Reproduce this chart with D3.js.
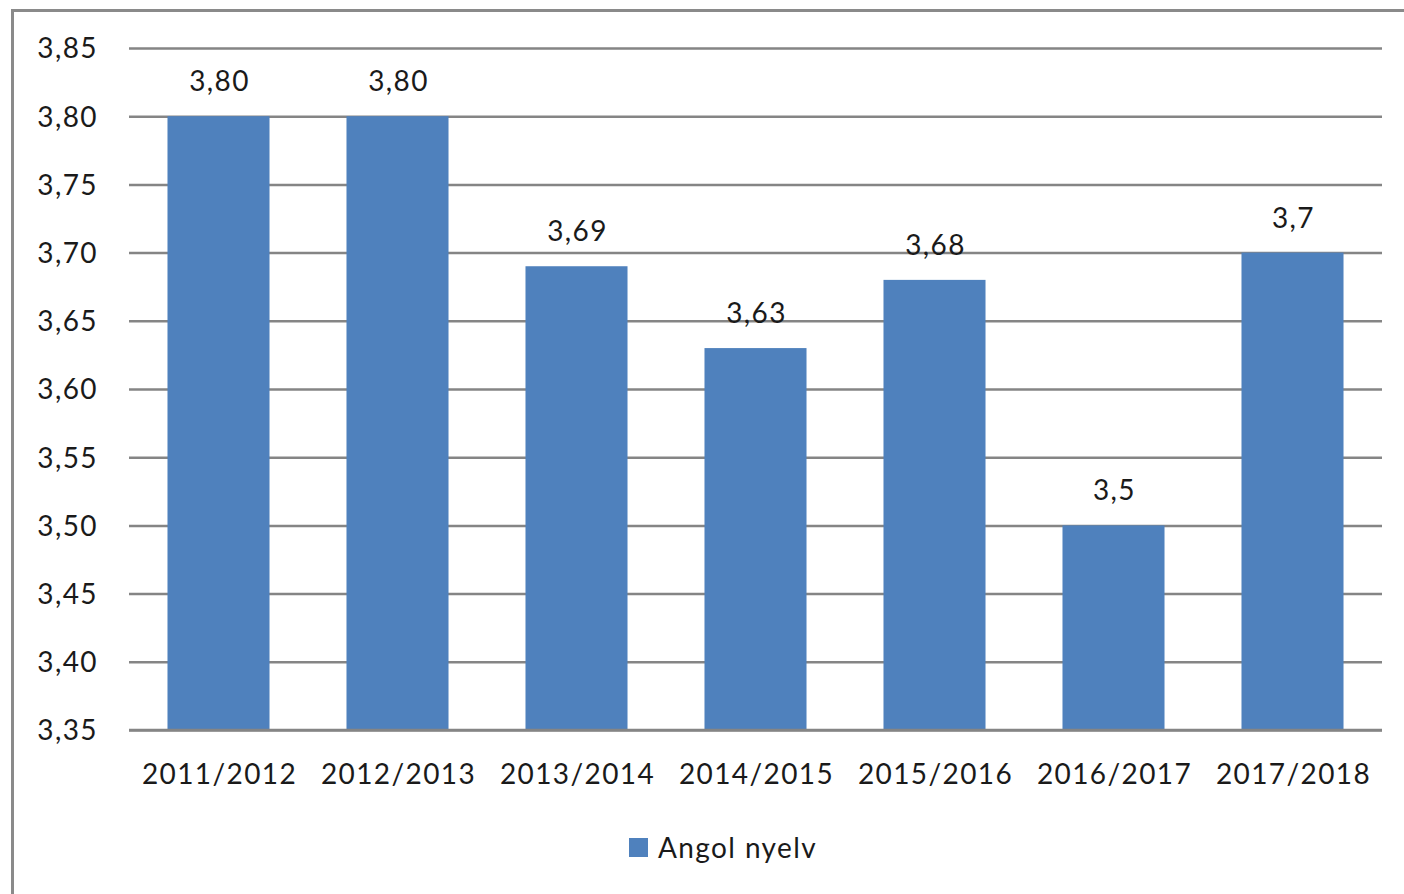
<!DOCTYPE html>
<html>
<head>
<meta charset="utf-8">
<script src="https://cdn.jsdelivr.net/npm/d3@7"></script>
<style>
  body { margin: 0; background: #fff; }
  svg { display: block; }
  text { font-family: Lato, "Open Sans", sans-serif; fill: #1a1a1a; letter-spacing: 1.4px; }
</style>
</head>
<body>
<script>
var years = ['2011/2012', '2012/2013', '2013/2014', '2014/2015', '2015/2016', '2016/2017', '2017/2018'];
var values = [3.80, 3.80, 3.69, 3.63, 3.68, 3.5, 3.7];
var valueLabels = ['3,80', '3,80', '3,69', '3,63', '3,68', '3,5', '3,7'];
var yTicks = [3.35, 3.40, 3.45, 3.50, 3.55, 3.60, 3.65, 3.70, 3.75, 3.80, 3.85];
var seriesName = 'Angol nyelv';

var w = 1404, h = 894;
var colour = '#4f81bd';
var gridColour = '#858585';

var svg = d3.select('body')
            .append('svg')
            .attr('width', w)
            .attr('height', h);

// outer chart frame (right and bottom edges fall outside the picture)
svg.append('rect')
   .attr('x', 12.5)
   .attr('y', 10.5)
   .attr('width', w + 20)
   .attr('height', h + 20)
   .attr('fill', 'none')
   .attr('stroke', '#8a8a8a')
   .attr('stroke-width', 3);

var x = d3.scaleBand()
          .domain(years)
          .range([129, 1382])
          .paddingInner(0.43)
          .paddingOuter(0.215);

var y = d3.scaleLinear()
          .domain([3.35, 3.85])
          .range([730, 48]);

// gridlines + tick labels
var yAxis = d3.axisLeft(y)
              .tickValues(yTicks)
              .tickSize(-(1382 - 129))
              .tickPadding(31)
              .tickFormat(function(d){ return d3.format('.2f')(d).replace('.', ','); });

var gy = svg.append('g')
            .attr('transform', 'translate(129,0)')
            .call(yAxis);
gy.select('.domain').remove();
gy.selectAll('line')
  .attr('stroke', gridColour)
  .attr('stroke-width', 2.5);
gy.selectAll('text')
  .attr('font-size', '28px')
  .attr('fill', '#1a1a1a')
  .attr('font-family', 'Lato, "Open Sans", sans-serif')
  .attr('dy', '0.35em');

svg.selectAll('rect.bar')
   .data(values)
   .enter()
   .append('rect')
   .attr('class', 'bar')
   .attr('x', function(d, i){ return x(years[i]); })
   .attr('y', function(d){ return y(d); })
   .attr('width', x.bandwidth())
   .attr('height', function(d){ return y(3.35) - y(d); })
   .attr('fill', colour);

// redraw baseline on top of bars
svg.append('line')
   .attr('x1', 129).attr('x2', 1382)
   .attr('y1', y(3.35)).attr('y2', y(3.35))
   .attr('stroke', gridColour)
   .attr('stroke-width', 2.5);

svg.selectAll('text.val')
   .data(values)
   .enter()
   .append('text')
   .attr('class', 'val')
   .attr('x', function(d, i){ return x(years[i]) + x.bandwidth() / 2 + 1; })
   .attr('y', function(d){ return y(d) - 25; })
   .attr('text-anchor', 'middle')
   .attr('font-size', '28px')
   .text(function(d, i){ return valueLabels[i]; });

var xAxis = d3.axisBottom(x).tickSize(0).tickPadding(34);
var gx = svg.append('g')
            .attr('transform', 'translate(1,' + y(3.35) + ')')
            .call(xAxis);
gx.select('.domain').remove();
gx.selectAll('text')
  .attr('font-size', '28px')
  .attr('fill', '#1a1a1a')
  .attr('font-family', 'Lato, "Open Sans", sans-serif');

// legend
var legend = svg.append('g').attr('transform', 'translate(629,838)');
legend.append('rect')
      .attr('width', 19)
      .attr('height', 19)
      .attr('fill', colour);
legend.append('text')
      .attr('x', 29)
      .attr('y', 20)
      .attr('font-size', '28px')
      .text(seriesName);
</script>
</body>
</html>
